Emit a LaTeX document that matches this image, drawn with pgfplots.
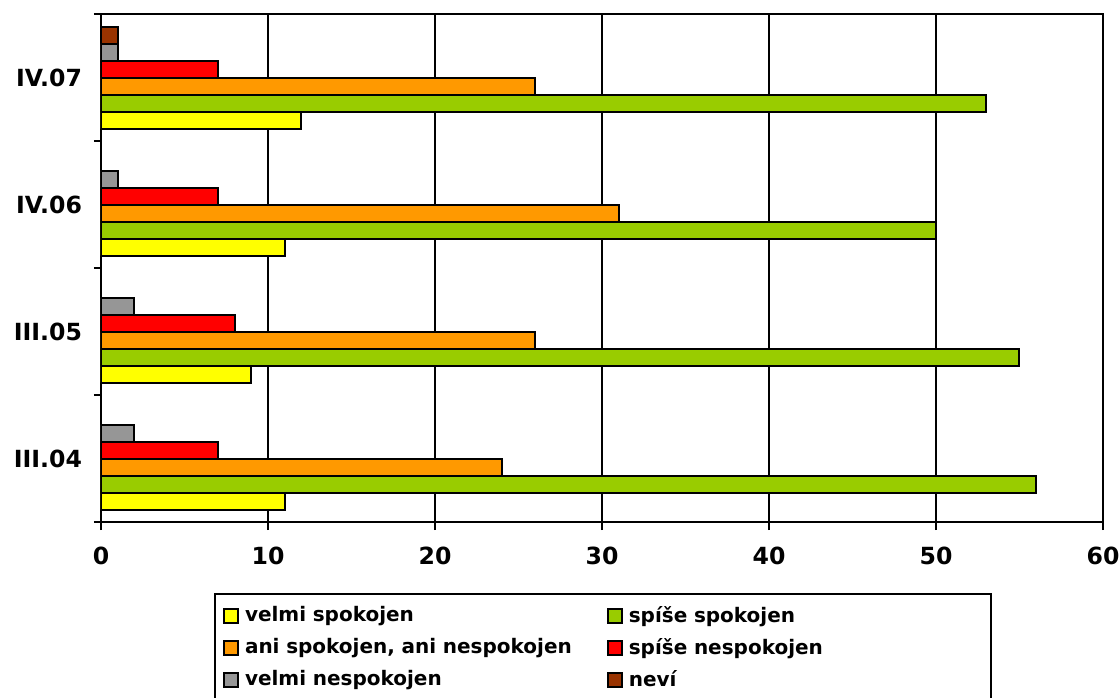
\documentclass[border=0pt]{standalone}
\usepackage{fontspec}
\setmainfont{DejaVu Sans}
\usepackage{pgfplots}
\pgfplotsset{compat=1.18}

\definecolor{cYel}{HTML}{FFFF00}
\definecolor{cGrn}{HTML}{99CC00}
\definecolor{cOra}{HTML}{FF9900}
\definecolor{cRed}{HTML}{FF0000}
\definecolor{cGry}{HTML}{969696}
\definecolor{cBrn}{HTML}{993300}

\begin{document}
\begin{tikzpicture}
\useasboundingbox (-50.5pt,-87.5pt) rectangle (509.5pt,261pt);
\begin{axis}[
  scale only axis,
  width=501pt, height=254pt,
  xbar, bar width=8.5pt,
  xmin=0, xmax=60, xtick={0,10,...,60},
  ymin=-0.5, ymax=3.5,
  ytick={0,1,2,3},
  yticklabels={III.04,III.05,IV.06,IV.07},
  minor ytick={-0.5,0.5,1.5,2.5,3.5},
  major y tick style={draw=none},
  xtick pos=bottom, ytick pos=left,
  tick align=outside,
  tick style={black,line width=1.2pt},
  major tick length=4pt, minor tick length=3.5pt,
  xmajorgrids,
  grid style={black,line width=1.1pt},
  axis line style={line width=1.4pt},
  /pgf/number format/assume math mode=true,
  ticklabel style={font=\bfseries\fontsize{11.8}{13}\selectfont},
  xticklabel style={yshift=-5pt},
  yticklabel style={xshift=-2pt},
  every axis plot/.append style={draw=black,line width=1pt},
  legend style={
    at={(56.5pt,-35.5pt)}, anchor=north west,
    legend columns=2, draw=black, line width=1.2pt,
    font=\bfseries\fontsize{10}{11}\selectfont,
    nodes={text width=174pt, align=left, inner xsep=3pt},
    /tikz/every even column/.append style={column sep=4pt},
    row sep=2.5pt, inner sep=4pt,
  },
  legend cell align=left,
  legend image code/.code={\draw[#1,line width=0.9pt] (0pt,-3.5pt) rectangle (7pt,3.5pt);},
]
\addplot[fill=cYel, bar shift=-21.25pt] coordinates {(11,0) (9,1) (11,2) (12,3)};
\addplot[fill=cGrn, bar shift=-12.75pt] coordinates {(56,0) (55,1) (50,2) (53,3)};
\addplot[fill=cOra, bar shift=-4.25pt] coordinates {(24,0) (26,1) (31,2) (26,3)};
\addplot[fill=cRed, bar shift=4.25pt] coordinates {(7,0) (8,1) (7,2) (7,3)};
\addplot[fill=cGry, bar shift=12.75pt] coordinates {(2,0) (2,1) (1,2) (1,3)};
\addplot[fill=cBrn, bar shift=21.25pt] coordinates {(1,3)};
\legend{velmi spokojen, spíše spokojen, {ani spokojen, ani nespokojen}, spíše nespokojen, velmi nespokojen, neví}
\end{axis}
\end{tikzpicture}
\end{document}
